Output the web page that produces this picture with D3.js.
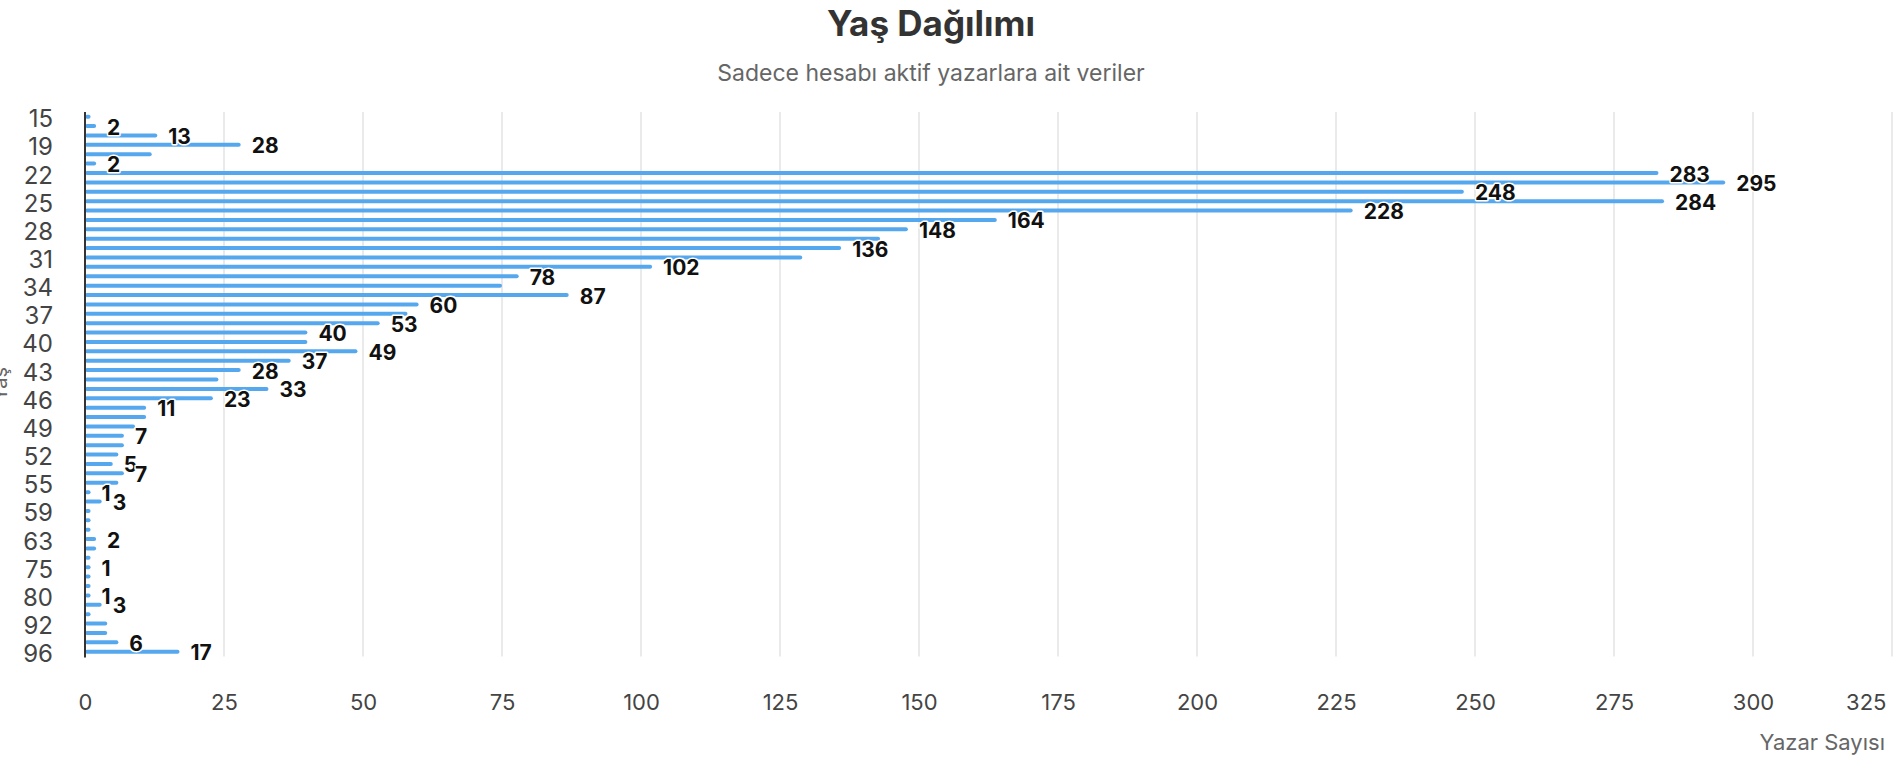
<!DOCTYPE html>
<html>
<head>
<meta charset="utf-8">
<script src="https://cdn.jsdelivr.net/npm/d3@7"></script>
<style>
  html, body { margin: 0; padding: 0; background: #fff; }
  svg { display: block; font-family: Inter, "Noto Sans", sans-serif; }
</style>
</head>
<body>
<svg id="chart" width="1904" height="770"></svg>
<script>
// ---- data ----
const ages = [15, 17, 18, 19, 20, 21, 22, 23, 24, 25, 26, 27, 28, 29, 30, 31, 32, 33, 34, 35,
  36, 37, 38, 39, 40, 41, 42, 43, 44, 45, 46, 47, 48, 49, 50, 51, 52, 53, 54, 55,
  56, 57, 59, 60, 61, 63, 64, 65, 75, 76, 78, 80, 82, 85, 92, 93, 95, 96];
const counts = [1, 2, 13, 28, 12, 2, 283, 295, 248, 284, 228, 164, 148, 143, 136, 129, 102, 78, 75, 87,
  60, 58, 53, 40, 40, 49, 37, 28, 24, 33, 23, 11, 11, 9, 7, 7, 6, 5, 7, 6,
  1, 3, 1, 1, 1, 2, 2, 1, 1, 1, 1, 1, 3, 1, 4, 4, 6, 17];
// which value labels are displayed (the rest are hidden to avoid overlap)
const labelShown = [0, 1, 1, 1, 0, 1, 1, 1, 1, 1, 1, 1, 1, 0, 1, 0, 1, 1, 0, 1,
  1, 0, 1, 1, 0, 1, 1, 1, 0, 1, 1, 1, 0, 0, 1, 0, 0, 1, 1, 0,
  1, 1, 0, 0, 0, 1, 0, 0, 1, 0, 0, 1, 1, 0, 0, 0, 1, 1];
const xTicks = [0, 25, 50, 75, 100, 125, 150, 175, 200, 225, 250, 275, 300, 325];
const titleText = "Yaş Dağılımı";
const subtitleText = "Sadece hesabı aktif yazarlara ait veriler";
const xAxisTitle = "Yazar Sayısı";
const yAxisTitle = "Yaş";

const data = ages.map((a, i) => ({ age: String(a), value: counts[i], show: labelShown[i] === 1 }));

// ---- layout ----
const svg = d3.select("#chart");
const plot = { left: 85, right: 1892, top: 112, bottom: 656.4 };

const x = d3.scaleLinear().domain([0, 325]).range([plot.left, plot.right]);
const y = d3.scaleBand().domain(data.map(d => d.age)).range([plot.top, plot.bottom]).padding(0);

// title
svg.append("text").attr("x", 931).attr("y", 36).attr("text-anchor", "middle")
  .attr("font-size", 35).attr("font-weight", 700).attr("fill", "#333").text(titleText);
svg.append("text").attr("x", 931).attr("y", 81).attr("text-anchor", "middle")
  .attr("font-size", 23).attr("fill", "#666").text(subtitleText);

// grid lines
svg.append("g").selectAll("line").data(xTicks.filter(t => t > 0)).join("line")
  .attr("x1", d => x(d)).attr("x2", d => x(d))
  .attr("y1", plot.top).attr("y2", plot.bottom)
  .attr("stroke", "#e3e3e3").attr("stroke-width", 1.5);

// x axis tick labels
const xAxis = d3.axisBottom(x).tickValues(xTicks).tickSize(0).tickPadding(0);
const gx = svg.append("g").attr("transform", `translate(0, 702)`).call(xAxis);
gx.select(".domain").remove();
gx.selectAll("text").attr("font-size", 22).attr("fill", "#444")
  .attr("font-family", "Inter, 'Noto Sans', sans-serif")
  .attr("dy", null).attr("dominant-baseline", "central");
// keep the last tick label inside the canvas
gx.selectAll(".tick").filter(d => d === xTicks[xTicks.length - 1]).select("text")
  .attr("text-anchor", "end").attr("x", 1886 - x(xTicks[xTicks.length - 1]));

// y axis tick labels (every third category)
const yAxis = d3.axisLeft(y).tickValues(y.domain().filter((d, i) => i % 3 === 0)).tickSize(0).tickPadding(0);
const gy = svg.append("g").attr("transform", `translate(53, 2)`).call(yAxis);
gy.select(".domain").remove();
gy.selectAll("text").attr("font-size", 24).attr("fill", "#444")
  .attr("font-family", "Inter, 'Noto Sans', sans-serif")
  .attr("dy", null).attr("dominant-baseline", "central");

// bars
const barH = 4;
svg.append("g").selectAll("rect").data(data).join("rect")
  .attr("x", x(0))
  .attr("y", d => y(d.age) + y.bandwidth() / 2 - barH / 2)
  .attr("width", d => Math.max(0, x(d.value) - x(0)))
  .attr("height", barH)
  .attr("rx", 2)
  .attr("fill", "#56a8ee");

// y axis line
svg.append("line").attr("x1", plot.left).attr("x2", plot.left)
  .attr("y1", plot.top).attr("y2", plot.bottom + 1)
  .attr("stroke", "#333").attr("stroke-width", 2);

// value labels
svg.append("g").selectAll("text").data(data.filter(d => d.show)).join("text")
  .attr("x", d => x(d.value) + 11)
  .attr("y", d => y(d.age) + y.bandwidth() / 2 + 1)
  .attr("dominant-baseline", "central")
  .attr("font-size", 21).attr("font-weight", 700)
  .attr("fill", "#111")
  .attr("stroke", "#fff").attr("stroke-width", 3).attr("paint-order", "stroke")
  .attr("stroke-linejoin", "round")
  .text(d => d.value);

// axis titles
svg.append("text").attr("x", 1885).attr("y", 750).attr("text-anchor", "end")
  .attr("font-size", 22).attr("fill", "#666").text(xAxisTitle);
svg.append("text").attr("transform", `translate(7, 384) rotate(-90)`)
  .attr("text-anchor", "middle").attr("font-size", 20).attr("fill", "#666").text(yAxisTitle);
</script>
</body>
</html>
